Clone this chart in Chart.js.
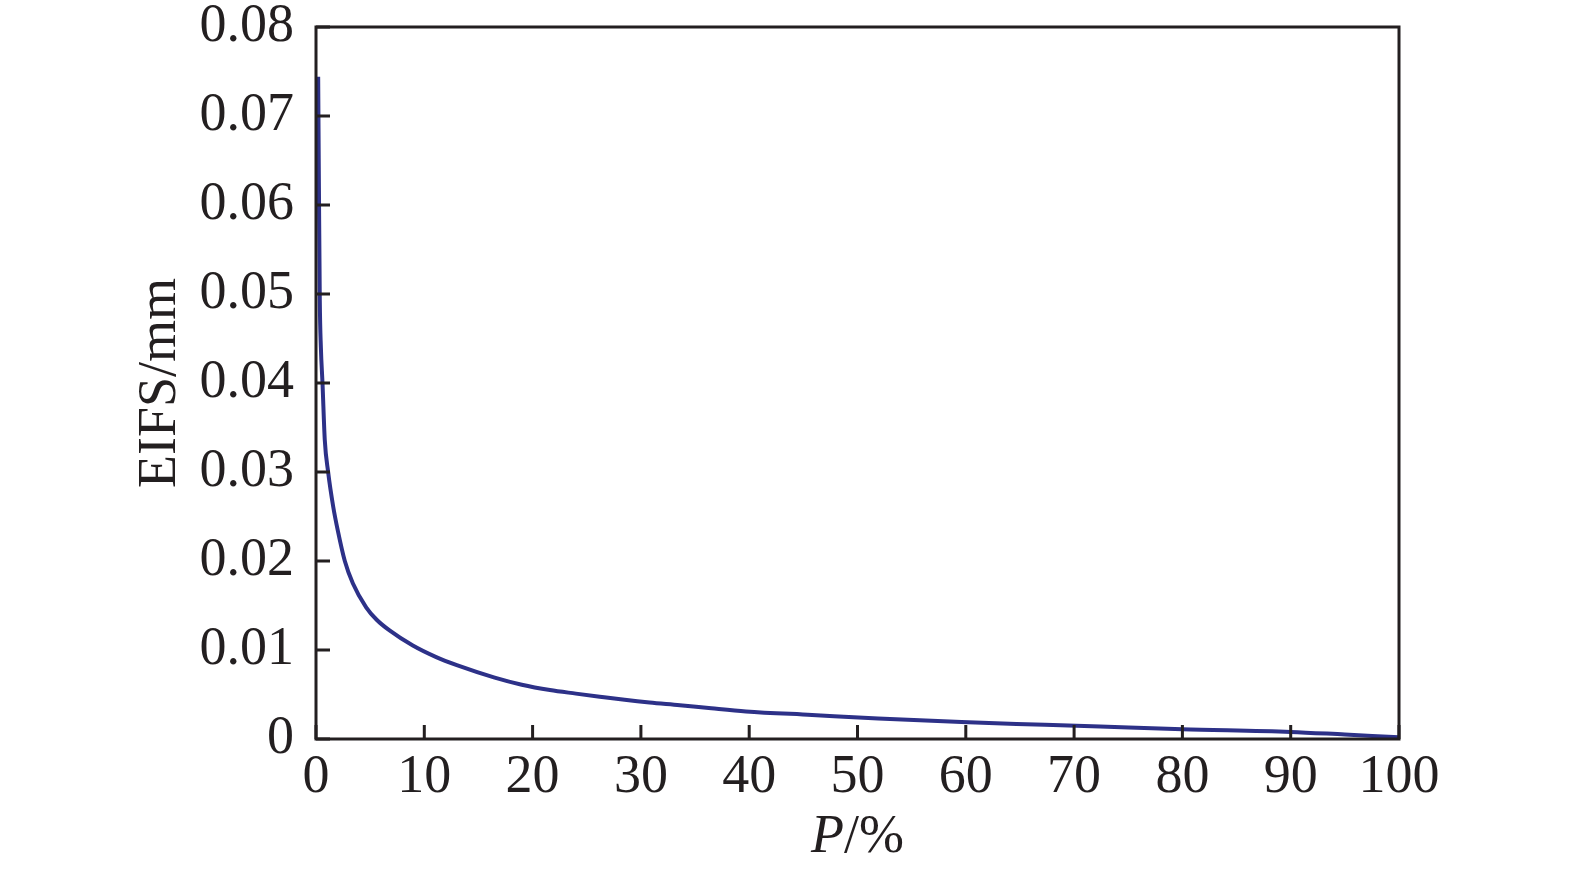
<!DOCTYPE html>
<html>
<head>
<meta charset="utf-8">
<script src="https://cdn.jsdelivr.net/npm/chart.js@4/dist/chart.umd.min.js"></script>
<style>
    html, body { margin: 0; padding: 0; background: #fff; }
    canvas { display: block; }
</style>
</head>
<body>
<canvas id="eifsChart" width="1575" height="878"></canvas>
<script>
// P (%) vs EIFS (mm)
const pValues = [0.2, 0.27, 0.35, 0.45, 0.6, 0.81, 1.12, 1.59, 2.0, 2.66, 3.4, 4.63, 5.6, 6.79, 8.94, 11.1, 13, 16.5, 19, 21.6, 24, 26.2, 28.5, 30.8, 33.6, 36.5, 39.7, 45.8, 51.9, 59.6, 67.3, 72.4, 80, 90, 95, 100];
const eifsValues = [0.0744, 0.062, 0.0493, 0.044, 0.04, 0.0336, 0.03, 0.0261, 0.0235, 0.02, 0.0175, 0.0148, 0.0134, 0.0122, 0.0105, 0.0092, 0.0083, 0.0069, 0.0061, 0.0055, 0.0051, 0.00475, 0.0044, 0.0041, 0.0038, 0.00345, 0.0031, 0.0027, 0.0023, 0.0019, 0.0016, 0.0014, 0.0011, 0.0008, 0.0005, 0.0002];
const xTicks = [0, 10, 20, 30, 40, 50, 60, 70, 80, 90, 100];
const yTicks = [0, 0.01, 0.02, 0.03, 0.04, 0.05, 0.06, 0.07, 0.08];

const points = pValues.map((p, i) => ({ x: p, y: eifsValues[i] }));
const FONT = '"Liberation Serif", "Times New Roman", serif';
const INK = '#231f20';

// frame + inward ticks + axis titles
const framePlugin = {
    id: 'frame',
    afterDraw(chart) {
        const ctx = chart.ctx;
        const a = chart.chartArea;
        const xs = chart.scales.x, ys = chart.scales.y;
        ctx.save();
        ctx.strokeStyle = INK;
        ctx.lineWidth = 3;
        ctx.strokeRect(a.left, a.top, a.right - a.left, a.bottom - a.top);
        ctx.beginPath();
        yTicks.forEach(v => {
            const y = ys.getPixelForValue(v);
            ctx.moveTo(a.left, y);
            ctx.lineTo(a.left + 14, y);
        });
        xTicks.forEach(v => {
            const x = xs.getPixelForValue(v);
            ctx.moveTo(x, a.bottom);
            ctx.lineTo(x, a.bottom - 14);
        });
        ctx.stroke();

        ctx.fillStyle = INK;
        // y title
        ctx.save();
        ctx.translate(161, (a.top + a.bottom) / 2);
        ctx.rotate(-Math.PI / 2);
        ctx.font = '54px ' + FONT;
        ctx.textAlign = 'center';
        ctx.textBaseline = 'middle';
        ctx.fillText('EIFS/mm', 0, 0);
        ctx.restore();

        // x title, italic P
        ctx.textBaseline = 'middle';
        ctx.textAlign = 'left';
        ctx.font = 'italic 54px ' + FONT;
        const wP = ctx.measureText('P').width;
        ctx.font = '54px ' + FONT;
        const wRest = ctx.measureText('/%').width;
        const cx = (a.left + a.right) / 2;
        let x0 = cx - (wP + wRest) / 2;
        ctx.font = 'italic 54px ' + FONT;
        ctx.fillText('P', x0, 838);
        ctx.font = '54px ' + FONT;
        ctx.fillText('/%', x0 + wP, 838);
        ctx.restore();
    }
};

new Chart(document.getElementById('eifsChart').getContext('2d'), {
    type: 'line',
    data: {
        datasets: [{
            label: 'EIFS',
            data: points,
            borderColor: '#2d3188',
            borderWidth: 4,
            pointRadius: 0,
            fill: false,
            cubicInterpolationMode: 'monotone'
        }]
    },
    options: {
        responsive: false,
        animation: false,
        devicePixelRatio: 1,
        layout: { padding: { left: 0, right: 176, top: 27, bottom: 0 } },
        plugins: {
            legend: { display: false },
            tooltip: { enabled: false }
        },
        scales: {
            x: {
                type: 'linear',
                min: 0,
                max: 100,
                afterBuildTicks: s => { s.ticks = xTicks.map(v => ({ value: v })); },
                afterFit: s => { s.height = 139; s.paddingLeft = 0; s.paddingRight = 0; },
                grid: { display: false, drawTicks: false },
                border: { display: false },
                ticks: {
                    color: INK,
                    padding: 12,
                    maxRotation: 0,
                    font: { family: FONT, size: 54, lineHeight: 1 }
                }
            },
            y: {
                type: 'linear',
                min: 0,
                max: 0.08,
                afterBuildTicks: s => { s.ticks = yTicks.map(v => ({ value: v })); },
                // fixed axis width, no extra label padding above the plot
                afterFit: s => { s.width = 316; s.paddingTop = 0; s.paddingBottom = 0; },
                grid: { display: false, drawTicks: false },
                border: { display: false },
                ticks: {
                    color: INK,
                    padding: 22,
                    font: { family: FONT, size: 54, lineHeight: 1 },
                    callback: v => v === 0 ? '0' : v.toFixed(2)
                }
            }
        }
    },
    plugins: [framePlugin]
});
</script>
</body>
</html>
